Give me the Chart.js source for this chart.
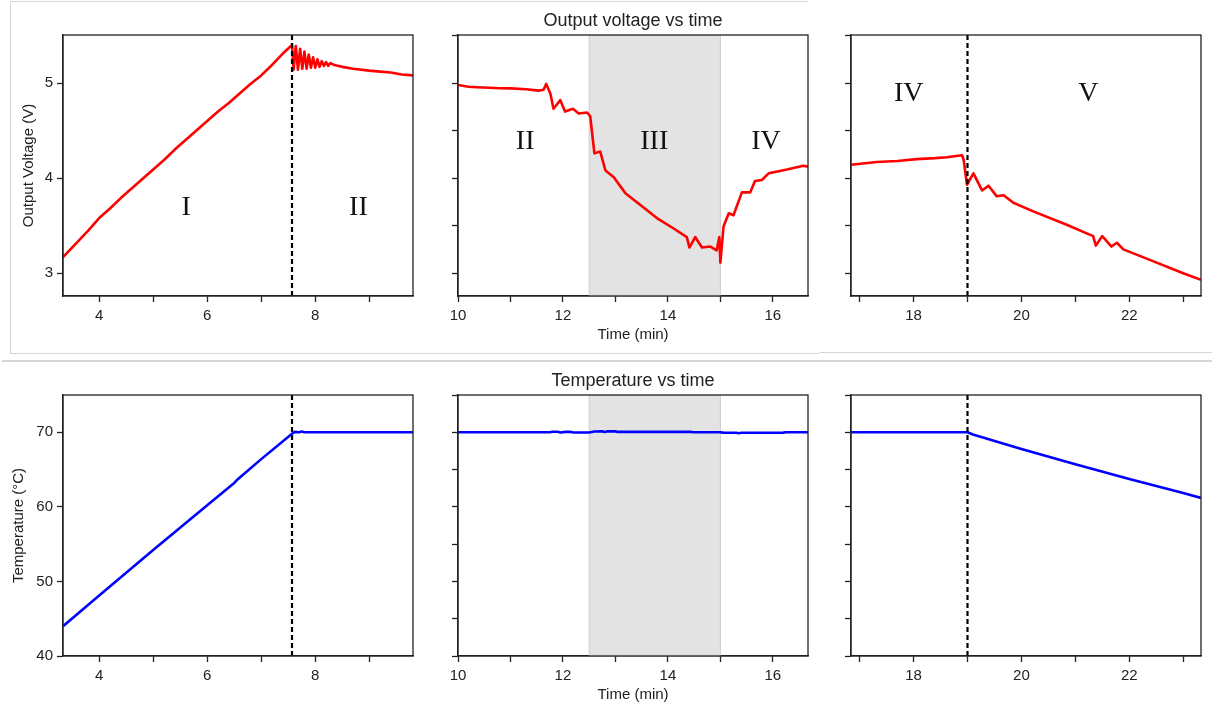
<!DOCTYPE html>
<html>
<head>
<meta charset="utf-8">
<title>Output voltage and temperature vs time</title>
<script src="https://cdn.jsdelivr.net/npm/chart.js@4.4.1/dist/chart.umd.min.js"></script>
<style>
  body { margin: 0; background: #fff; }
  #wrap { position: relative; width: 1212px; height: 713px; overflow: hidden; }
  #wrap canvas { position: absolute; }
  .rule { position: absolute; background: #d6d6d6; }
</style>
</head>
<body>
<div id="wrap">
  <!-- faint frame lines of the original screenshot -->
  <div class="rule" style="left:10px;top:1px;width:798px;height:1px"></div>
  <div class="rule" style="left:10px;top:1px;width:1px;height:353px"></div>
  <div class="rule" style="left:10px;top:353px;width:809px;height:1px"></div>
  <div class="rule" style="left:819px;top:352px;width:393px;height:1px"></div>
  <div class="rule" style="left:2px;top:360px;width:1210px;height:2px"></div>

  <canvas id="volt1" width="416" height="346"></canvas>
  <canvas id="volt2" width="416" height="346"></canvas>
  <canvas id="volt3" width="416" height="346"></canvas>
  <canvas id="temp1" width="416" height="346"></canvas>
  <canvas id="temp2" width="416" height="346"></canvas>
  <canvas id="temp3" width="416" height="346"></canvas>
</div>
<script>
// Output voltage (V), window 1: phase I ramp, then phase II
const vTime1 = [3.33, 3.6, 3.8, 4.0, 4.2, 4.4, 4.6, 4.8, 5.0, 5.2, 5.4, 5.6, 5.8, 6.0, 6.2, 6.4, 6.6, 6.8, 7.0, 7.2, 7.4, 7.57,
  7.60, 7.64, 7.68, 7.72, 7.76, 7.80, 7.84, 7.88, 7.92, 7.96, 8.00, 8.04, 8.08, 8.12, 8.16, 8.20, 8.24, 8.28, 8.35,
  8.5, 8.7, 9.0, 9.2, 9.4, 9.6, 9.81];
const vOut1 = [3.17, 3.33, 3.45, 3.58, 3.68, 3.79, 3.89, 3.99, 4.09, 4.19, 4.30, 4.40, 4.50, 4.60, 4.70, 4.79, 4.89, 4.99, 5.08, 5.19, 5.31, 5.40,
  5.14, 5.39, 5.14, 5.36, 5.15, 5.33, 5.15, 5.30, 5.16, 5.27, 5.16, 5.25, 5.17, 5.23, 5.18, 5.22, 5.18, 5.21, 5.19,
  5.17, 5.15, 5.13, 5.12, 5.11, 5.09, 5.08];

// Output voltage (V), window 2: phases II, III (heating off), IV
const vTime2 = [10.0, 10.2, 10.36, 10.6, 10.8, 11.0, 11.3, 11.54, 11.63, 11.68, 11.76, 11.82, 11.95, 12.04, 12.19, 12.30, 12.46,
  12.52, 12.60, 12.71, 12.81, 12.97, 13.19, 13.47, 13.79, 14.11, 14.36, 14.41, 14.52, 14.65, 14.81, 14.93, 14.98, 15.0,
  15.06, 15.16, 15.25, 15.41, 15.57, 15.66, 15.79, 15.92, 16.27, 16.58, 16.67];
const vOut2 = [4.98, 4.96, 4.955, 4.95, 4.945, 4.944, 4.935, 4.92, 4.93, 4.99, 4.89, 4.73, 4.82, 4.70, 4.73, 4.68, 4.69,
  4.65, 4.26, 4.28, 4.08, 4.01, 3.84, 3.72, 3.58, 3.47, 3.38, 3.27, 3.38, 3.27, 3.28, 3.24, 3.38, 3.11,
  3.49, 3.63, 3.61, 3.85, 3.85, 3.97, 3.98, 4.05, 4.09, 4.13, 4.12];

// Output voltage (V), window 3: phases IV, V
const vTime3 = [16.84, 17.32, 17.7, 18.06, 18.4, 18.62, 18.90, 18.93, 18.99, 19.11, 19.27, 19.39, 19.54, 19.67, 19.85, 20.22,
  20.84, 21.33, 21.38, 21.50, 21.67, 21.77, 21.89, 22.38, 23.0, 23.33];
const vOut3 = [4.14, 4.17, 4.18, 4.20, 4.21, 4.22, 4.24, 4.19, 3.93, 4.05, 3.87, 3.92, 3.81, 3.82, 3.74, 3.65,
  3.51, 3.39, 3.29, 3.39, 3.28, 3.32, 3.25, 3.14, 3.00, 2.93];

// Temperature (°C) for the same three windows
const tTime1 = [3.33, 4.0, 5.0, 6.0, 6.5, 6.55, 7.0, 7.57, 7.62, 7.7, 7.75, 7.8, 9.81];
const temp1 = [44.0, 48.1, 54.2, 60.2, 63.2, 63.6, 66.4, 69.8, 70.05, 70.0, 70.1, 70.0, 70.0];

const tTime2 = [10.0, 11.75, 11.8, 11.9, 11.95, 12.05, 12.15, 12.2, 12.5, 12.6, 12.75, 12.8, 12.85, 13.0, 13.05, 14.45, 14.5,
  15.0, 15.05, 15.3, 15.35, 15.4, 16.2, 16.25, 16.67];
const temp2 = [70.0, 70.0, 70.08, 70.08, 69.98, 70.05, 70.05, 69.98, 69.98, 70.1, 70.12, 70.05, 70.13, 70.12, 70.05, 70.05, 70.0,
  70.0, 69.95, 69.93, 69.88, 69.93, 69.95, 70.0, 70.0];

const tTime3 = [16.84, 19.0, 19.1, 20.0, 21.0, 22.0, 23.0, 23.33];
const temp3 = [70.0, 70.0, 69.7, 67.75, 65.7, 63.75, 61.85, 61.2];

// Axis limits
const timeRanges = [[3.33, 9.81], [10, 16.67], [16.84, 23.33]];
const voltRange = [2.76, 5.505];
const tempRange = [40, 75];

// Phase boundaries
const switchTimes = [7.57, 19.0];
const coolBand = [12.5, 15.0];

const ink = '#222';
const sans = '"Liberation Sans", Arial, sans-serif';

// draws the frame, shaded band, dashed switch line, phase labels and titles
const decorPlugin = {
  id: 'decor',
  beforeDatasetsDraw(chart, args, opts) {
    const { ctx, chartArea: a, scales: { x } } = chart;
    if (opts.band) {
      const x0 = x.getPixelForValue(opts.band[0]);
      const x1 = x.getPixelForValue(opts.band[1]);
      ctx.save();
      ctx.fillStyle = '#e3e3e3';
      ctx.fillRect(x0, a.top, x1 - x0, a.bottom - a.top);
      ctx.strokeStyle = '#cbcbcb';
      ctx.lineWidth = 1;
      ctx.beginPath();
      ctx.moveTo(x0, a.top); ctx.lineTo(x0, a.bottom);
      ctx.moveTo(x1, a.top); ctx.lineTo(x1, a.bottom);
      ctx.stroke();
      ctx.restore();
    }
  },
  afterDraw(chart, args, opts) {
    const { ctx, chartArea: a, scales: { x, y } } = chart;
    ctx.save();
    if (opts.dash !== undefined) {
      const px = x.getPixelForValue(opts.dash);
      ctx.strokeStyle = '#000';
      ctx.lineWidth = 2.2;
      ctx.setLineDash([5, 3]);
      ctx.beginPath();
      ctx.moveTo(px, a.top);
      ctx.lineTo(px, a.bottom);
      ctx.stroke();
      ctx.setLineDash([]);
    }
    ctx.strokeStyle = ink;
    ctx.lineWidth = 1.3;
    ctx.strokeRect(a.left, a.top, a.right - a.left, a.bottom - a.top);
    ctx.fillStyle = '#111';
    ctx.textAlign = 'center';
    ctx.textBaseline = 'alphabetic';
    ctx.font = '28px "Liberation Serif", "Times New Roman", serif';
    (opts.labels || []).forEach(([text, t, v]) => {
      ctx.fillText(text, x.getPixelForValue(t), y.getPixelForValue(v));
    });
    if (opts.title) {
      ctx.fillStyle = ink;
      ctx.font = '18px ' + sans;
      ctx.fillText(opts.title, (a.left + a.right) / 2, a.top - 9.5);
    }
    ctx.restore();
  }
};

const buildPanel = (id, cfg) => {
  const canvas = document.getElementById(id);
  canvas.style.left = (cfg.left - 60) + 'px';
  canvas.style.top = (cfg.top - 35) + 'px';
  const tickFont = { family: sans, size: 15 };
  return new Chart(canvas, {
    type: 'line',
    data: {
      datasets: [{
        data: cfg.xs.map((t, i) => ({ x: t, y: cfg.ys[i] })),
        borderColor: cfg.color,
        borderWidth: 2.6,
        borderJoinStyle: 'round',
        pointRadius: 0,
        tension: 0,
        fill: false
      }]
    },
    options: {
      responsive: false,
      animation: false,
      events: [],
      layout: { padding: { top: 35, right: 6, left: 0, bottom: 0 } },
      plugins: {
        legend: { display: false },
        tooltip: { enabled: false },
        decor: cfg.decor
      },
      scales: {
        x: {
          type: 'linear',
          min: cfg.xRange[0],
          max: cfg.xRange[1],
          afterFit: s => { s.height = 50; },
          ticks: {
            stepSize: 1,
            includeBounds: false,
            autoSkip: false,
            maxRotation: 0,
            padding: 5,
            color: ink,
            font: tickFont,
            callback: v => (v % 2 === 0 ? String(v) : '')
          },
          grid: { drawOnChartArea: false, tickLength: 6, tickColor: ink, tickWidth: 1.3 },
          border: { color: ink, width: 1.3 },
          title: {
            display: !!cfg.xTitle,
            text: cfg.xTitle || '',
            color: ink,
            font: tickFont,
            padding: { top: 0, bottom: 2 }
          }
        },
        y: {
          min: cfg.yRange[0],
          max: cfg.yRange[1],
          afterFit: s => { s.width = 60; },
          ticks: {
            stepSize: cfg.yStep,
            includeBounds: false,
            autoSkip: false,
            padding: 4,
            color: ink,
            font: tickFont,
            callback: v => (cfg.yLabels ? String(v) : '')
          },
          grid: { drawOnChartArea: false, tickLength: 6, tickColor: ink, tickWidth: 1.3 },
          border: { color: ink, width: 1.3 },
          title: {
            display: !!cfg.yTitle,
            text: cfg.yTitle || '',
            color: ink,
            font: tickFont,
            padding: { top: cfg.yTitlePad || 0, bottom: 0 }
          }
        }
      }
    },
    plugins: [decorPlugin]
  });
};

// Top row: output voltage
buildPanel('volt1', {
  left: 63, top: 35, xs: vTime1, ys: vOut1, color: '#ff0000',
  xRange: timeRanges[0], yRange: voltRange, yStep: 1, yLabels: true,
  yTitle: 'Output Voltage (V)', yTitlePad: 16.5,
  decor: { dash: switchTimes[0], labels: [['I', 5.61, 3.61], ['II', 8.8, 3.61]] }
});
buildPanel('volt2', {
  left: 458, top: 35, xs: vTime2, ys: vOut2, color: '#ff0000',
  xRange: timeRanges[1], yRange: voltRange, yStep: 0.5, yLabels: false,
  xTitle: 'Time (min)',
  decor: {
    band: coolBand, title: 'Output voltage vs time',
    labels: [['II', 11.28, 4.31], ['III', 13.74, 4.31], ['IV', 15.87, 4.31]]
  }
});
buildPanel('volt3', {
  left: 851, top: 35, xs: vTime3, ys: vOut3, color: '#ff0000',
  xRange: timeRanges[2], yRange: voltRange, yStep: 0.5, yLabels: false,
  decor: { dash: switchTimes[1], labels: [['IV', 17.91, 4.81], ['V', 21.24, 4.81]] }
});

// Bottom row: temperature
buildPanel('temp1', {
  left: 63, top: 395, xs: tTime1, ys: temp1, color: '#0000ff',
  xRange: timeRanges[0], yRange: tempRange, yStep: 10, yLabels: true,
  yTitle: 'Temperature (°C)', yTitlePad: 7,
  decor: { dash: switchTimes[0] }
});
buildPanel('temp2', {
  left: 458, top: 395, xs: tTime2, ys: temp2, color: '#0000ff',
  xRange: timeRanges[1], yRange: tempRange, yStep: 5, yLabels: false,
  xTitle: 'Time (min)',
  decor: { band: coolBand, title: 'Temperature vs time' }
});
buildPanel('temp3', {
  left: 851, top: 395, xs: tTime3, ys: temp3, color: '#0000ff',
  xRange: timeRanges[2], yRange: tempRange, yStep: 5, yLabels: false,
  decor: { dash: switchTimes[1] }
});
</script>
</body>
</html>
